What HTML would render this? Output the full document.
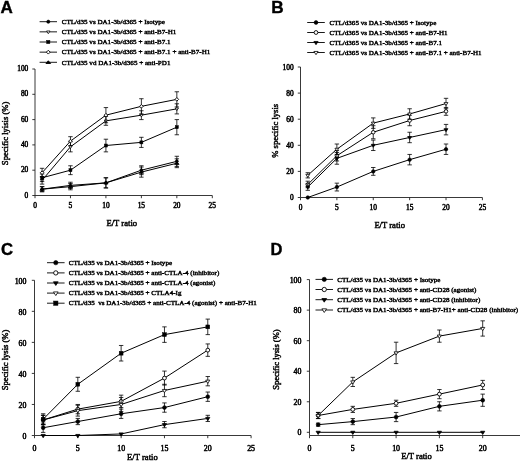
<!DOCTYPE html>
<html><head><meta charset="utf-8"><title>Figure</title>
<style>html,body{margin:0;padding:0;background:#fff}svg{display:block;filter:blur(0.4px)}text{fill:#000;stroke:#000;stroke-width:0.4px}.t{stroke-width:0.46px}.l{stroke-width:0.44px}.k{stroke-width:0.48px}</style>
</head><body>
<svg width="520" height="462" viewBox="0 0 520 462">
<rect width="520" height="462" fill="#fff"/>
<path d="M35.0 69V195.5H212.3" fill="none" stroke="#222" stroke-width="0.9"/>
<path d="M32.30 195.50H35.0" stroke="#222" stroke-width="0.9"/>
<text x="28.30" y="197.51" font-size="7.4" text-anchor="end" class="k" font-family="Liberation Serif, serif">0</text>
<path d="M32.30 170.20H35.0" stroke="#222" stroke-width="0.9"/>
<text x="28.30" y="172.21" font-size="7.4" text-anchor="end" class="k" font-family="Liberation Serif, serif">20</text>
<path d="M32.30 144.90H35.0" stroke="#222" stroke-width="0.9"/>
<text x="28.30" y="146.91" font-size="7.4" text-anchor="end" class="k" font-family="Liberation Serif, serif">40</text>
<path d="M32.30 119.60H35.0" stroke="#222" stroke-width="0.9"/>
<text x="28.30" y="121.61" font-size="7.4" text-anchor="end" class="k" font-family="Liberation Serif, serif">60</text>
<path d="M32.30 94.30H35.0" stroke="#222" stroke-width="0.9"/>
<text x="28.30" y="96.31" font-size="7.4" text-anchor="end" class="k" font-family="Liberation Serif, serif">80</text>
<path d="M32.30 69.00H35.0" stroke="#222" stroke-width="0.9"/>
<text x="28.30" y="71.01" font-size="7.4" text-anchor="end" class="k" font-family="Liberation Serif, serif">100</text>
<path d="M35.00 195.5V198.20" stroke="#222" stroke-width="0.9"/>
<text x="35.00" y="208.00" font-size="7.4" text-anchor="middle" class="k" font-family="Liberation Serif, serif">0</text>
<path d="M70.46 195.5V198.20" stroke="#222" stroke-width="0.9"/>
<text x="70.46" y="208.00" font-size="7.4" text-anchor="middle" class="k" font-family="Liberation Serif, serif">5</text>
<path d="M105.92 195.5V198.20" stroke="#222" stroke-width="0.9"/>
<text x="105.92" y="208.00" font-size="7.4" text-anchor="middle" class="k" font-family="Liberation Serif, serif">10</text>
<path d="M141.38 195.5V198.20" stroke="#222" stroke-width="0.9"/>
<text x="141.38" y="208.00" font-size="7.4" text-anchor="middle" class="k" font-family="Liberation Serif, serif">15</text>
<path d="M176.84 195.5V198.20" stroke="#222" stroke-width="0.9"/>
<text x="176.84" y="208.00" font-size="7.4" text-anchor="middle" class="k" font-family="Liberation Serif, serif">20</text>
<path d="M212.30 195.5V198.20" stroke="#222" stroke-width="0.9"/>
<text x="212.30" y="208.00" font-size="7.4" text-anchor="middle" class="k" font-family="Liberation Serif, serif">25</text>
<polyline points="42.09,189.18 70.46,185.38 105.92,182.85 141.38,170.20 176.84,161.34" fill="none" stroke="#000" stroke-width="1.0"/>
<polyline points="42.09,180.32 70.46,146.80 105.92,120.87 141.38,115.17 176.84,108.85" fill="none" stroke="#000" stroke-width="1.0"/>
<polyline points="42.09,177.79 70.46,170.20 105.92,145.53 141.38,142.37 176.84,127.19" fill="none" stroke="#000" stroke-width="1.0"/>
<polyline points="42.09,172.73 70.46,141.11 105.92,115.17 141.38,106.32 176.84,99.36" fill="none" stroke="#000" stroke-width="1.0"/>
<polyline points="42.09,189.18 70.46,186.65 105.92,182.85 141.38,172.10 176.84,163.24" fill="none" stroke="#000" stroke-width="1.0"/>
<path d="M42.09 186.65V191.71M39.89 186.65h4.4M39.89 191.71h4.4" stroke="#000" stroke-width="0.8" fill="none"/>
<path d="M70.46 182.22V188.54M68.26 182.22h4.4M68.26 188.54h4.4" stroke="#000" stroke-width="0.8" fill="none"/>
<path d="M105.92 177.79V187.91M103.72 177.79h4.4M103.72 187.91h4.4" stroke="#000" stroke-width="0.8" fill="none"/>
<path d="M141.38 165.77V174.63M139.18 165.77h4.4M139.18 174.63h4.4" stroke="#000" stroke-width="0.8" fill="none"/>
<path d="M176.84 156.28V166.41M174.64 156.28h4.4M174.64 166.41h4.4" stroke="#000" stroke-width="0.8" fill="none"/>
<circle cx="42.09" cy="189.18" r="1.50" fill="#000" stroke="#000" stroke-width="0.6"/>
<circle cx="70.46" cy="185.38" r="1.50" fill="#000" stroke="#000" stroke-width="0.6"/>
<circle cx="105.92" cy="182.85" r="1.50" fill="#000" stroke="#000" stroke-width="0.6"/>
<circle cx="141.38" cy="170.20" r="1.50" fill="#000" stroke="#000" stroke-width="0.6"/>
<circle cx="176.84" cy="161.34" r="1.50" fill="#000" stroke="#000" stroke-width="0.6"/>
<path d="M42.09 176.53V184.12M39.89 176.53h4.4M39.89 184.12h4.4" stroke="#000" stroke-width="0.8" fill="none"/>
<path d="M70.46 141.74V151.86M68.26 141.74h4.4M68.26 151.86h4.4" stroke="#000" stroke-width="0.8" fill="none"/>
<path d="M105.92 116.44V125.29M103.72 116.44h4.4M103.72 125.29h4.4" stroke="#000" stroke-width="0.8" fill="none"/>
<path d="M141.38 110.75V119.60M139.18 110.75h4.4M139.18 119.60h4.4" stroke="#000" stroke-width="0.8" fill="none"/>
<path d="M176.84 103.79V113.91M174.64 103.79h4.4M174.64 113.91h4.4" stroke="#000" stroke-width="0.8" fill="none"/>
<path d="M40.44 179.50L43.74 179.50L42.09 182.04Z" fill="#fff" stroke="#000" stroke-width="0.8"/>
<path d="M68.81 145.97L72.11 145.97L70.46 148.52Z" fill="#fff" stroke="#000" stroke-width="0.8"/>
<path d="M104.27 120.04L107.57 120.04L105.92 122.59Z" fill="#fff" stroke="#000" stroke-width="0.8"/>
<path d="M139.73 114.35L143.03 114.35L141.38 116.90Z" fill="#fff" stroke="#000" stroke-width="0.8"/>
<path d="M175.19 108.02L178.49 108.02L176.84 110.57Z" fill="#fff" stroke="#000" stroke-width="0.8"/>
<path d="M42.09 174.00V181.59M39.89 174.00h4.4M39.89 181.59h4.4" stroke="#000" stroke-width="0.8" fill="none"/>
<path d="M70.46 165.77V174.63M68.26 165.77h4.4M68.26 174.63h4.4" stroke="#000" stroke-width="0.8" fill="none"/>
<path d="M105.92 139.21V151.86M103.72 139.21h4.4M103.72 151.86h4.4" stroke="#000" stroke-width="0.8" fill="none"/>
<path d="M141.38 137.31V147.43M139.18 137.31h4.4M139.18 147.43h4.4" stroke="#000" stroke-width="0.8" fill="none"/>
<path d="M176.84 119.60V134.78M174.64 119.60h4.4M174.64 134.78h4.4" stroke="#000" stroke-width="0.8" fill="none"/>
<rect x="40.59" y="176.29" width="3.00" height="3.00" fill="#000" stroke="#000" stroke-width="0.5"/>
<rect x="68.96" y="168.70" width="3.00" height="3.00" fill="#000" stroke="#000" stroke-width="0.5"/>
<rect x="104.42" y="144.03" width="3.00" height="3.00" fill="#000" stroke="#000" stroke-width="0.5"/>
<rect x="139.88" y="140.87" width="3.00" height="3.00" fill="#000" stroke="#000" stroke-width="0.5"/>
<rect x="175.34" y="125.69" width="3.00" height="3.00" fill="#000" stroke="#000" stroke-width="0.5"/>
<path d="M42.09 168.30V177.16M39.89 168.30h4.4M39.89 177.16h4.4" stroke="#000" stroke-width="0.8" fill="none"/>
<path d="M70.46 136.68V145.53M68.26 136.68h4.4M68.26 145.53h4.4" stroke="#000" stroke-width="0.8" fill="none"/>
<path d="M105.92 107.58V122.76M103.72 107.58h4.4M103.72 122.76h4.4" stroke="#000" stroke-width="0.8" fill="none"/>
<path d="M141.38 98.73V113.91M139.18 98.73h4.4M139.18 113.91h4.4" stroke="#000" stroke-width="0.8" fill="none"/>
<path d="M176.84 91.77V106.95M174.64 91.77h4.4M174.64 106.95h4.4" stroke="#000" stroke-width="0.8" fill="none"/>
<path d="M40.29 172.73L42.09 170.93L43.89 172.73L42.09 174.53Z" fill="#fff" stroke="#000" stroke-width="0.9"/>
<path d="M68.66 141.11L70.46 139.31L72.26 141.11L70.46 142.91Z" fill="#fff" stroke="#000" stroke-width="0.9"/>
<path d="M104.12 115.17L105.92 113.37L107.72 115.17L105.92 116.97Z" fill="#fff" stroke="#000" stroke-width="0.9"/>
<path d="M139.58 106.32L141.38 104.52L143.18 106.32L141.38 108.12Z" fill="#fff" stroke="#000" stroke-width="0.9"/>
<path d="M175.04 99.36L176.84 97.56L178.64 99.36L176.84 101.16Z" fill="#fff" stroke="#000" stroke-width="0.9"/>
<path d="M42.09 186.65V191.71M39.89 186.65h4.4M39.89 191.71h4.4" stroke="#000" stroke-width="0.8" fill="none"/>
<path d="M70.46 183.48V189.81M68.26 183.48h4.4M68.26 189.81h4.4" stroke="#000" stroke-width="0.8" fill="none"/>
<path d="M105.92 177.79V187.91M103.72 177.79h4.4M103.72 187.91h4.4" stroke="#000" stroke-width="0.8" fill="none"/>
<path d="M141.38 167.04V177.16M139.18 167.04h4.4M139.18 177.16h4.4" stroke="#000" stroke-width="0.8" fill="none"/>
<path d="M176.84 158.81V167.67M174.64 158.81h4.4M174.64 167.67h4.4" stroke="#000" stroke-width="0.8" fill="none"/>
<path d="M39.92 190.30L44.27 190.30L42.09 187.75Z" fill="#000" stroke="#000" stroke-width="0.9"/>
<path d="M68.29 187.77L72.64 187.77L70.46 185.22Z" fill="#000" stroke="#000" stroke-width="0.9"/>
<path d="M103.75 183.97L108.09 183.97L105.92 181.42Z" fill="#000" stroke="#000" stroke-width="0.9"/>
<path d="M139.20 173.22L143.56 173.22L141.38 170.67Z" fill="#000" stroke="#000" stroke-width="0.9"/>
<path d="M174.66 164.37L179.02 164.37L176.84 161.82Z" fill="#000" stroke="#000" stroke-width="0.9"/>
<path d="M39.6 21.7H57" stroke="#000" stroke-width="0.9"/>
<circle cx="48.30" cy="21.70" r="1.60" fill="#000" stroke="#000" stroke-width="0.6"/>
<text x="61.7" y="23.96" font-size="7.07" font-family="Liberation Serif, serif" class="l" xml:space="preserve">CTL/d35 vs DA1-3b/d365 + Isotype</text>
<path d="M39.6 31.85H57" stroke="#000" stroke-width="0.9"/>
<path d="M46.54 30.97L50.06 30.97L48.30 33.69Z" fill="#fff" stroke="#000" stroke-width="0.8"/>
<text x="61.7" y="34.11" font-size="7.07" font-family="Liberation Serif, serif" class="l" xml:space="preserve">CTL/d35 vs DA1-3b/d365 + anti-B7-H1</text>
<path d="M39.6 42.0H57" stroke="#000" stroke-width="0.9"/>
<rect x="46.70" y="40.40" width="3.20" height="3.20" fill="#000" stroke="#000" stroke-width="0.5"/>
<text x="61.7" y="44.26" font-size="7.07" font-family="Liberation Serif, serif" class="l" xml:space="preserve">CTL/d35 vs DA1-3b/d365 + anti-B7.1</text>
<path d="M39.6 52.15H57" stroke="#000" stroke-width="0.9"/>
<path d="M46.38 52.15L48.30 50.23L50.22 52.15L48.30 54.07Z" fill="#fff" stroke="#000" stroke-width="0.9"/>
<text x="61.7" y="54.41" font-size="7.07" font-family="Liberation Serif, serif" class="l" xml:space="preserve">CTL/d35 vs DA1-3b/d365 + anti-B7.1 + anti-B7-H1</text>
<path d="M39.6 62.3H57" stroke="#000" stroke-width="0.9"/>
<path d="M45.98 63.50L50.62 63.50L48.30 60.78Z" fill="#000" stroke="#000" stroke-width="0.9"/>
<text x="61.7" y="64.56" font-size="7.07" font-family="Liberation Serif, serif" class="l" xml:space="preserve">CTL/d35 vd DA1-3b/d365 + anti-PD1</text>
<text transform="translate(8.2,133.4) rotate(-90)" font-size="8.6" text-anchor="middle" class="t" font-family="Liberation Serif, serif">Specific lyisis (%)</text>
<text x="121.8" y="226.2" font-size="8.6" text-anchor="middle" class="t" font-family="Liberation Serif, serif">E/T ratio</text>
<text x="0.6" y="13.1" font-size="17" font-weight="bold" font-family="Liberation Sans, sans-serif">A</text>
<path d="M300.5 67.0V197.5H482.4" fill="none" stroke="#222" stroke-width="0.9"/>
<path d="M297.80 197.50H300.5" stroke="#222" stroke-width="0.9"/>
<text x="293.70" y="200.41" font-size="7.4" text-anchor="end" class="k" font-family="Liberation Serif, serif">0</text>
<path d="M297.80 171.40H300.5" stroke="#222" stroke-width="0.9"/>
<text x="293.70" y="174.31" font-size="7.4" text-anchor="end" class="k" font-family="Liberation Serif, serif">20</text>
<path d="M297.80 145.30H300.5" stroke="#222" stroke-width="0.9"/>
<text x="293.70" y="148.21" font-size="7.4" text-anchor="end" class="k" font-family="Liberation Serif, serif">40</text>
<path d="M297.80 119.20H300.5" stroke="#222" stroke-width="0.9"/>
<text x="293.70" y="122.11" font-size="7.4" text-anchor="end" class="k" font-family="Liberation Serif, serif">60</text>
<path d="M297.80 93.10H300.5" stroke="#222" stroke-width="0.9"/>
<text x="293.70" y="96.01" font-size="7.4" text-anchor="end" class="k" font-family="Liberation Serif, serif">80</text>
<path d="M297.80 67.00H300.5" stroke="#222" stroke-width="0.9"/>
<text x="293.70" y="69.91" font-size="7.4" text-anchor="end" class="k" font-family="Liberation Serif, serif">100</text>
<path d="M300.50 197.5V200.20" stroke="#222" stroke-width="0.9"/>
<text x="300.50" y="210.40" font-size="7.4" text-anchor="middle" class="k" font-family="Liberation Serif, serif">0</text>
<path d="M336.88 197.5V200.20" stroke="#222" stroke-width="0.9"/>
<text x="336.88" y="210.40" font-size="7.4" text-anchor="middle" class="k" font-family="Liberation Serif, serif">5</text>
<path d="M373.26 197.5V200.20" stroke="#222" stroke-width="0.9"/>
<text x="373.26" y="210.40" font-size="7.4" text-anchor="middle" class="k" font-family="Liberation Serif, serif">10</text>
<path d="M409.64 197.5V200.20" stroke="#222" stroke-width="0.9"/>
<text x="409.64" y="210.40" font-size="7.4" text-anchor="middle" class="k" font-family="Liberation Serif, serif">15</text>
<path d="M446.02 197.5V200.20" stroke="#222" stroke-width="0.9"/>
<text x="446.02" y="210.40" font-size="7.4" text-anchor="middle" class="k" font-family="Liberation Serif, serif">20</text>
<path d="M482.40 197.5V200.20" stroke="#222" stroke-width="0.9"/>
<text x="482.40" y="210.40" font-size="7.4" text-anchor="middle" class="k" font-family="Liberation Serif, serif">25</text>
<polyline points="307.78,197.50 336.88,187.06 373.26,171.40 409.64,159.66 446.02,149.22" fill="none" stroke="#000" stroke-width="1.0"/>
<polyline points="307.78,184.45 336.88,155.74 373.26,132.25 409.64,120.51 446.02,111.37" fill="none" stroke="#000" stroke-width="1.0"/>
<polyline points="307.78,187.06 336.88,158.35 373.26,145.30 409.64,137.47 446.02,129.64" fill="none" stroke="#000" stroke-width="1.0"/>
<polyline points="307.78,175.31 336.88,149.22 373.26,123.12 409.64,113.98 446.02,103.54" fill="none" stroke="#000" stroke-width="1.0"/>
<path d="M336.88 183.15V190.97M334.68 183.15h4.4M334.68 190.97h4.4" stroke="#000" stroke-width="0.8" fill="none"/>
<path d="M373.26 167.49V175.31M371.06 167.49h4.4M371.06 175.31h4.4" stroke="#000" stroke-width="0.8" fill="none"/>
<path d="M409.64 154.44V164.88M407.44 154.44h4.4M407.44 164.88h4.4" stroke="#000" stroke-width="0.8" fill="none"/>
<path d="M446.02 144.00V154.44M443.82 144.00h4.4M443.82 154.44h4.4" stroke="#000" stroke-width="0.8" fill="none"/>
<circle cx="307.78" cy="197.50" r="1.75" fill="#000" stroke="#000" stroke-width="0.6"/>
<circle cx="336.88" cy="187.06" r="1.75" fill="#000" stroke="#000" stroke-width="0.6"/>
<circle cx="373.26" cy="171.40" r="1.75" fill="#000" stroke="#000" stroke-width="0.6"/>
<circle cx="409.64" cy="159.66" r="1.75" fill="#000" stroke="#000" stroke-width="0.6"/>
<circle cx="446.02" cy="149.22" r="1.75" fill="#000" stroke="#000" stroke-width="0.6"/>
<path d="M307.78 181.19V187.71M305.58 181.19h4.4M305.58 187.71h4.4" stroke="#000" stroke-width="0.8" fill="none"/>
<path d="M336.88 150.52V160.96M334.68 150.52h4.4M334.68 160.96h4.4" stroke="#000" stroke-width="0.8" fill="none"/>
<path d="M373.26 125.73V138.78M371.06 125.73h4.4M371.06 138.78h4.4" stroke="#000" stroke-width="0.8" fill="none"/>
<path d="M409.64 115.29V125.73M407.44 115.29h4.4M407.44 125.73h4.4" stroke="#000" stroke-width="0.8" fill="none"/>
<path d="M446.02 107.45V115.29M443.82 107.45h4.4M443.82 115.29h4.4" stroke="#000" stroke-width="0.8" fill="none"/>
<circle cx="307.78" cy="184.45" r="1.75" fill="#fff" stroke="#000" stroke-width="0.9"/>
<circle cx="336.88" cy="155.74" r="1.75" fill="#fff" stroke="#000" stroke-width="0.9"/>
<circle cx="373.26" cy="132.25" r="1.75" fill="#fff" stroke="#000" stroke-width="0.9"/>
<circle cx="409.64" cy="120.51" r="1.75" fill="#fff" stroke="#000" stroke-width="0.9"/>
<circle cx="446.02" cy="111.37" r="1.75" fill="#fff" stroke="#000" stroke-width="0.9"/>
<path d="M307.78 183.80V190.32M305.58 183.80h4.4M305.58 190.32h4.4" stroke="#000" stroke-width="0.8" fill="none"/>
<path d="M336.88 152.48V164.22M334.68 152.48h4.4M334.68 164.22h4.4" stroke="#000" stroke-width="0.8" fill="none"/>
<path d="M373.26 140.08V150.52M371.06 140.08h4.4M371.06 150.52h4.4" stroke="#000" stroke-width="0.8" fill="none"/>
<path d="M409.64 132.25V142.69M407.44 132.25h4.4M407.44 142.69h4.4" stroke="#000" stroke-width="0.8" fill="none"/>
<path d="M446.02 124.42V134.86M443.82 124.42h4.4M443.82 134.86h4.4" stroke="#000" stroke-width="0.8" fill="none"/>
<path d="M305.85 186.10L309.70 186.10L307.78 189.07Z" fill="#000" stroke="#000" stroke-width="0.8"/>
<path d="M334.95 157.39L338.81 157.39L336.88 160.36Z" fill="#000" stroke="#000" stroke-width="0.8"/>
<path d="M371.33 144.34L375.19 144.34L373.26 147.31Z" fill="#000" stroke="#000" stroke-width="0.8"/>
<path d="M407.71 136.51L411.56 136.51L409.64 139.48Z" fill="#000" stroke="#000" stroke-width="0.8"/>
<path d="M444.09 128.68L447.94 128.68L446.02 131.65Z" fill="#000" stroke="#000" stroke-width="0.8"/>
<path d="M307.78 172.71V177.93M305.58 172.71h4.4M305.58 177.93h4.4" stroke="#000" stroke-width="0.8" fill="none"/>
<path d="M336.88 144.00V154.44M334.68 144.00h4.4M334.68 154.44h4.4" stroke="#000" stroke-width="0.8" fill="none"/>
<path d="M373.26 117.90V128.34M371.06 117.90h4.4M371.06 128.34h4.4" stroke="#000" stroke-width="0.8" fill="none"/>
<path d="M409.64 108.76V119.20M407.44 108.76h4.4M407.44 119.20h4.4" stroke="#000" stroke-width="0.8" fill="none"/>
<path d="M446.02 98.32V108.76M443.82 98.32h4.4M443.82 108.76h4.4" stroke="#000" stroke-width="0.8" fill="none"/>
<path d="M305.85 174.35L309.70 174.35L307.78 177.33Z" fill="#fff" stroke="#000" stroke-width="0.8"/>
<path d="M334.95 148.25L338.81 148.25L336.88 151.23Z" fill="#fff" stroke="#000" stroke-width="0.8"/>
<path d="M371.33 122.15L375.19 122.15L373.26 125.13Z" fill="#fff" stroke="#000" stroke-width="0.8"/>
<path d="M407.71 113.02L411.56 113.02L409.64 115.99Z" fill="#fff" stroke="#000" stroke-width="0.8"/>
<path d="M444.09 102.58L447.94 102.58L446.02 105.55Z" fill="#fff" stroke="#000" stroke-width="0.8"/>
<path d="M307.2 22.5H324.8" stroke="#000" stroke-width="0.9"/>
<circle cx="316.00" cy="22.50" r="1.90" fill="#000" stroke="#000" stroke-width="0.6"/>
<text x="329.5" y="24.76" font-size="7.07" font-family="Liberation Serif, serif" class="l" xml:space="preserve">CTL/d365 vs DA1-3b/d365 + Isotype</text>
<path d="M307.2 32.5H324.8" stroke="#000" stroke-width="0.9"/>
<circle cx="316.00" cy="32.50" r="1.90" fill="#fff" stroke="#000" stroke-width="0.9"/>
<text x="329.5" y="34.76" font-size="7.07" font-family="Liberation Serif, serif" class="l" xml:space="preserve">CTL/d365 vs DA1-3b/d365 + anti-B7-H1</text>
<path d="M307.2 42.5H324.8" stroke="#000" stroke-width="0.9"/>
<path d="M313.91 41.45L318.09 41.45L316.00 44.69Z" fill="#000" stroke="#000" stroke-width="0.8"/>
<text x="329.5" y="44.76" font-size="7.07" font-family="Liberation Serif, serif" class="l" xml:space="preserve">CTL/d365 vs DA1-3b/d365 + anti-B7.1</text>
<path d="M307.2 52.5H324.8" stroke="#000" stroke-width="0.9"/>
<path d="M313.91 51.45L318.09 51.45L316.00 54.69Z" fill="#fff" stroke="#000" stroke-width="0.8"/>
<text x="329.5" y="54.76" font-size="7.07" font-family="Liberation Serif, serif" class="l" xml:space="preserve">CTL/d365 vs DA1-3b/d365 + anti-B7.1 + anti-B7-H1</text>
<text transform="translate(278.4,130.8) rotate(-90)" font-size="8.6" text-anchor="middle" class="t" font-family="Liberation Serif, serif">% specific lysis</text>
<text x="389.7" y="227.8" font-size="8.6" text-anchor="middle" class="t" font-family="Liberation Serif, serif">E/T ratio</text>
<text x="271.3" y="13.1" font-size="17.2" font-weight="bold" font-family="Liberation Sans, sans-serif">B</text>
<path d="M34.5 280.3V435.5H251.1" fill="none" stroke="#222" stroke-width="0.9"/>
<path d="M31.80 435.50H34.5" stroke="#222" stroke-width="0.9"/>
<text x="26.50" y="439.30" font-size="7.9" text-anchor="end" class="k" font-family="Liberation Serif, serif">0</text>
<path d="M31.80 404.46H34.5" stroke="#222" stroke-width="0.9"/>
<text x="26.50" y="408.26" font-size="7.9" text-anchor="end" class="k" font-family="Liberation Serif, serif">20</text>
<path d="M31.80 373.42H34.5" stroke="#222" stroke-width="0.9"/>
<text x="26.50" y="377.22" font-size="7.9" text-anchor="end" class="k" font-family="Liberation Serif, serif">40</text>
<path d="M31.80 342.38H34.5" stroke="#222" stroke-width="0.9"/>
<text x="26.50" y="346.18" font-size="7.9" text-anchor="end" class="k" font-family="Liberation Serif, serif">60</text>
<path d="M31.80 311.34H34.5" stroke="#222" stroke-width="0.9"/>
<text x="26.50" y="315.14" font-size="7.9" text-anchor="end" class="k" font-family="Liberation Serif, serif">80</text>
<path d="M31.80 280.30H34.5" stroke="#222" stroke-width="0.9"/>
<text x="26.50" y="284.10" font-size="7.9" text-anchor="end" class="k" font-family="Liberation Serif, serif">100</text>
<path d="M34.50 435.5V438.20" stroke="#222" stroke-width="0.9"/>
<text x="34.50" y="451.10" font-size="7.9" text-anchor="middle" class="k" font-family="Liberation Serif, serif">0</text>
<path d="M77.82 435.5V438.20" stroke="#222" stroke-width="0.9"/>
<text x="77.82" y="451.10" font-size="7.9" text-anchor="middle" class="k" font-family="Liberation Serif, serif">5</text>
<path d="M121.14 435.5V438.20" stroke="#222" stroke-width="0.9"/>
<text x="121.14" y="451.10" font-size="7.9" text-anchor="middle" class="k" font-family="Liberation Serif, serif">10</text>
<path d="M164.46 435.5V438.20" stroke="#222" stroke-width="0.9"/>
<text x="164.46" y="451.10" font-size="7.9" text-anchor="middle" class="k" font-family="Liberation Serif, serif">15</text>
<path d="M207.78 435.5V438.20" stroke="#222" stroke-width="0.9"/>
<text x="207.78" y="451.10" font-size="7.9" text-anchor="middle" class="k" font-family="Liberation Serif, serif">20</text>
<path d="M251.10 435.5V438.20" stroke="#222" stroke-width="0.9"/>
<text x="251.10" y="451.10" font-size="7.9" text-anchor="middle" class="k" font-family="Liberation Serif, serif">25</text>
<polyline points="43.16,427.74 77.82,421.53 121.14,413.77 164.46,407.56 207.78,396.70" fill="none" stroke="#000" stroke-width="1.0"/>
<polyline points="43.16,419.98 77.82,409.12 121.14,401.36 164.46,378.08 207.78,350.14" fill="none" stroke="#000" stroke-width="1.0"/>
<polyline points="43.16,435.50 77.82,435.50 121.14,433.95 164.46,424.64 207.78,418.43" fill="none" stroke="#000" stroke-width="1.0"/>
<polyline points="43.16,419.98 77.82,410.67 121.14,404.46 164.46,390.49 207.78,381.18" fill="none" stroke="#000" stroke-width="1.0"/>
<polyline points="43.16,419.20 77.82,384.28 121.14,353.24 164.46,334.62 207.78,326.86" fill="none" stroke="#000" stroke-width="1.0"/>
<path d="M43.16 423.08V432.40M40.96 423.08h4.4M40.96 432.40h4.4" stroke="#000" stroke-width="0.8" fill="none"/>
<path d="M77.82 418.43V424.64M75.62 418.43h4.4M75.62 424.64h4.4" stroke="#000" stroke-width="0.8" fill="none"/>
<path d="M121.14 409.12V418.43M118.94 409.12h4.4M118.94 418.43h4.4" stroke="#000" stroke-width="0.8" fill="none"/>
<path d="M164.46 402.91V412.22M162.26 402.91h4.4M162.26 412.22h4.4" stroke="#000" stroke-width="0.8" fill="none"/>
<path d="M207.78 392.04V401.36M205.58 392.04h4.4M205.58 401.36h4.4" stroke="#000" stroke-width="0.8" fill="none"/>
<circle cx="43.16" cy="427.74" r="1.90" fill="#000" stroke="#000" stroke-width="0.6"/>
<circle cx="77.82" cy="421.53" r="1.90" fill="#000" stroke="#000" stroke-width="0.6"/>
<circle cx="121.14" cy="413.77" r="1.90" fill="#000" stroke="#000" stroke-width="0.6"/>
<circle cx="164.46" cy="407.56" r="1.90" fill="#000" stroke="#000" stroke-width="0.6"/>
<circle cx="207.78" cy="396.70" r="1.90" fill="#000" stroke="#000" stroke-width="0.6"/>
<path d="M43.16 415.32V424.64M40.96 415.32h4.4M40.96 424.64h4.4" stroke="#000" stroke-width="0.8" fill="none"/>
<path d="M77.82 404.46V413.77M75.62 404.46h4.4M75.62 413.77h4.4" stroke="#000" stroke-width="0.8" fill="none"/>
<path d="M121.14 395.15V407.56M118.94 395.15h4.4M118.94 407.56h4.4" stroke="#000" stroke-width="0.8" fill="none"/>
<path d="M164.46 371.09V385.06M162.26 371.09h4.4M162.26 385.06h4.4" stroke="#000" stroke-width="0.8" fill="none"/>
<path d="M207.78 343.93V356.35M205.58 343.93h4.4M205.58 356.35h4.4" stroke="#000" stroke-width="0.8" fill="none"/>
<circle cx="43.16" cy="419.98" r="1.90" fill="#fff" stroke="#000" stroke-width="0.9"/>
<circle cx="77.82" cy="409.12" r="1.90" fill="#fff" stroke="#000" stroke-width="0.9"/>
<circle cx="121.14" cy="401.36" r="1.90" fill="#fff" stroke="#000" stroke-width="0.9"/>
<circle cx="164.46" cy="378.08" r="1.90" fill="#fff" stroke="#000" stroke-width="0.9"/>
<circle cx="207.78" cy="350.14" r="1.90" fill="#fff" stroke="#000" stroke-width="0.9"/>
<path d="M164.46 421.53V427.74M162.26 421.53h4.4M162.26 427.74h4.4" stroke="#000" stroke-width="0.8" fill="none"/>
<path d="M207.78 415.32V421.53M205.58 415.32h4.4M205.58 421.53h4.4" stroke="#000" stroke-width="0.8" fill="none"/>
<path d="M41.07 434.45L45.25 434.45L43.16 437.69Z" fill="#000" stroke="#000" stroke-width="0.8"/>
<path d="M75.73 434.45L79.91 434.45L77.82 437.69Z" fill="#000" stroke="#000" stroke-width="0.8"/>
<path d="M119.05 432.90L123.23 432.90L121.14 436.13Z" fill="#000" stroke="#000" stroke-width="0.8"/>
<path d="M162.37 423.59L166.55 423.59L164.46 426.82Z" fill="#000" stroke="#000" stroke-width="0.8"/>
<path d="M205.69 417.38L209.87 417.38L207.78 420.61Z" fill="#000" stroke="#000" stroke-width="0.8"/>
<path d="M43.16 415.32V424.64M40.96 415.32h4.4M40.96 424.64h4.4" stroke="#000" stroke-width="0.8" fill="none"/>
<path d="M77.82 405.24V416.10M75.62 405.24h4.4M75.62 416.10h4.4" stroke="#000" stroke-width="0.8" fill="none"/>
<path d="M121.14 397.48V411.44M118.94 397.48h4.4M118.94 411.44h4.4" stroke="#000" stroke-width="0.8" fill="none"/>
<path d="M164.46 384.28V396.70M162.26 384.28h4.4M162.26 396.70h4.4" stroke="#000" stroke-width="0.8" fill="none"/>
<path d="M207.78 376.52V385.84M205.58 376.52h4.4M205.58 385.84h4.4" stroke="#000" stroke-width="0.8" fill="none"/>
<path d="M41.07 418.94L45.25 418.94L43.16 422.17Z" fill="#fff" stroke="#000" stroke-width="0.8"/>
<path d="M75.73 409.62L79.91 409.62L77.82 412.85Z" fill="#fff" stroke="#000" stroke-width="0.8"/>
<path d="M119.05 403.41L123.23 403.41L121.14 406.64Z" fill="#fff" stroke="#000" stroke-width="0.8"/>
<path d="M162.37 389.45L166.55 389.45L164.46 392.68Z" fill="#fff" stroke="#000" stroke-width="0.8"/>
<path d="M205.69 380.13L209.87 380.13L207.78 383.37Z" fill="#fff" stroke="#000" stroke-width="0.8"/>
<path d="M43.16 413.77V424.64M40.96 413.77h4.4M40.96 424.64h4.4" stroke="#000" stroke-width="0.8" fill="none"/>
<path d="M77.82 377.30V391.27M75.62 377.30h4.4M75.62 391.27h4.4" stroke="#000" stroke-width="0.8" fill="none"/>
<path d="M121.14 345.48V361.00M118.94 345.48h4.4M118.94 361.00h4.4" stroke="#000" stroke-width="0.8" fill="none"/>
<path d="M164.46 326.86V342.38M162.26 326.86h4.4M162.26 342.38h4.4" stroke="#000" stroke-width="0.8" fill="none"/>
<path d="M207.78 319.10V334.62M205.58 319.10h4.4M205.58 334.62h4.4" stroke="#000" stroke-width="0.8" fill="none"/>
<rect x="41.26" y="417.30" width="3.80" height="3.80" fill="#000" stroke="#000" stroke-width="0.5"/>
<rect x="75.92" y="382.38" width="3.80" height="3.80" fill="#000" stroke="#000" stroke-width="0.5"/>
<rect x="119.24" y="351.34" width="3.80" height="3.80" fill="#000" stroke="#000" stroke-width="0.5"/>
<rect x="162.56" y="332.72" width="3.80" height="3.80" fill="#000" stroke="#000" stroke-width="0.5"/>
<rect x="205.88" y="324.96" width="3.80" height="3.80" fill="#000" stroke="#000" stroke-width="0.5"/>
<path d="M47 262.7H64.6" stroke="#000" stroke-width="0.9"/>
<circle cx="55.80" cy="262.70" r="2.15" fill="#000" stroke="#000" stroke-width="0.6"/>
<text x="68.8" y="264.96" font-size="7.07" font-family="Liberation Serif, serif" class="l" xml:space="preserve">CTL/d35 vs DA1-3b/d365 + Isotype</text>
<path d="M47 272.9H64.6" stroke="#000" stroke-width="0.9"/>
<circle cx="55.80" cy="272.90" r="2.15" fill="#fff" stroke="#000" stroke-width="0.9"/>
<text x="68.8" y="275.16" font-size="7.07" font-family="Liberation Serif, serif" class="l" xml:space="preserve">CTL/d35 vs DA1-3b/d365 + anti-CTLA-4 (inhibitor)</text>
<path d="M47 283.0H64.6" stroke="#000" stroke-width="0.9"/>
<path d="M53.43 281.82L58.16 281.82L55.80 285.47Z" fill="#000" stroke="#000" stroke-width="0.8"/>
<text x="68.8" y="285.26" font-size="7.07" font-family="Liberation Serif, serif" class="l" xml:space="preserve">CTL/d35 vs DA1-3b/d365 + anti-CTLA-4 (agonist)</text>
<path d="M47 293.1H64.6" stroke="#000" stroke-width="0.9"/>
<path d="M53.43 291.92L58.16 291.92L55.80 295.57Z" fill="#fff" stroke="#000" stroke-width="0.8"/>
<text x="68.8" y="295.36" font-size="7.07" font-family="Liberation Serif, serif" class="l" xml:space="preserve">CTL/d35 vs DA1-3b/d365 + CTLA4-Ig</text>
<path d="M47 303.2H64.6" stroke="#000" stroke-width="0.9"/>
<rect x="53.65" y="301.05" width="4.30" height="4.30" fill="#000" stroke="#000" stroke-width="0.5"/>
<text x="68.8" y="305.46" font-size="7.07" font-family="Liberation Serif, serif" class="l" xml:space="preserve">CTL/d35  vs DA1-3b/d365 + anti-CTLA-4 (agonist) + anti-B7-H1</text>
<text transform="translate(8,360) rotate(-90)" font-size="8.5" text-anchor="middle" class="t" font-family="Liberation Serif, serif">Specific lysis (%)</text>
<text x="142.4" y="459.6" font-size="8.6" text-anchor="middle" class="t" font-family="Liberation Serif, serif">E/T ratio</text>
<text x="1" y="254.9" font-size="16.7" font-weight="bold" font-family="Liberation Sans, sans-serif">C</text>
<path d="M309.5 279.6V435.5H520" fill="none" stroke="#222" stroke-width="0.9"/>
<path d="M306.80 432.30H309.5" stroke="#222" stroke-width="0.9"/>
<text x="301.50" y="435.30" font-size="7.9" text-anchor="end" class="k" font-family="Liberation Serif, serif">0</text>
<path d="M306.80 401.76H309.5" stroke="#222" stroke-width="0.9"/>
<text x="301.50" y="404.76" font-size="7.9" text-anchor="end" class="k" font-family="Liberation Serif, serif">20</text>
<path d="M306.80 371.22H309.5" stroke="#222" stroke-width="0.9"/>
<text x="301.50" y="374.22" font-size="7.9" text-anchor="end" class="k" font-family="Liberation Serif, serif">40</text>
<path d="M306.80 340.68H309.5" stroke="#222" stroke-width="0.9"/>
<text x="301.50" y="343.68" font-size="7.9" text-anchor="end" class="k" font-family="Liberation Serif, serif">60</text>
<path d="M306.80 310.14H309.5" stroke="#222" stroke-width="0.9"/>
<text x="301.50" y="313.14" font-size="7.9" text-anchor="end" class="k" font-family="Liberation Serif, serif">80</text>
<path d="M306.80 279.60H309.5" stroke="#222" stroke-width="0.9"/>
<text x="301.50" y="282.60" font-size="7.9" text-anchor="end" class="k" font-family="Liberation Serif, serif">100</text>
<path d="M309.50 435.5V438.20" stroke="#222" stroke-width="0.9"/>
<text x="309.50" y="450.90" font-size="7.9" text-anchor="middle" class="k" font-family="Liberation Serif, serif">0</text>
<path d="M352.80 435.5V438.20" stroke="#222" stroke-width="0.9"/>
<text x="352.80" y="450.90" font-size="7.9" text-anchor="middle" class="k" font-family="Liberation Serif, serif">5</text>
<path d="M396.10 435.5V438.20" stroke="#222" stroke-width="0.9"/>
<text x="396.10" y="450.90" font-size="7.9" text-anchor="middle" class="k" font-family="Liberation Serif, serif">10</text>
<path d="M439.40 435.5V438.20" stroke="#222" stroke-width="0.9"/>
<text x="439.40" y="450.90" font-size="7.9" text-anchor="middle" class="k" font-family="Liberation Serif, serif">15</text>
<path d="M482.70 435.5V438.20" stroke="#222" stroke-width="0.9"/>
<text x="482.70" y="450.90" font-size="7.9" text-anchor="middle" class="k" font-family="Liberation Serif, serif">20</text>
<polyline points="318.16,424.67 352.80,421.61 396.10,417.03 439.40,406.34 482.70,400.23" fill="none" stroke="#000" stroke-width="1.0"/>
<polyline points="318.16,415.50 352.80,409.40 396.10,403.29 439.40,394.12 482.70,384.96" fill="none" stroke="#000" stroke-width="1.0"/>
<polyline points="318.16,432.30 352.80,432.30 396.10,432.30 439.40,432.30 482.70,432.30" fill="none" stroke="#000" stroke-width="1.0"/>
<polyline points="318.16,415.50 352.80,381.91 396.10,352.90 439.40,336.10 482.70,328.46" fill="none" stroke="#000" stroke-width="1.0"/>
<path d="M318.16 423.14V426.19M315.96 423.14h4.4M315.96 426.19h4.4" stroke="#000" stroke-width="0.8" fill="none"/>
<path d="M352.80 418.56V424.67M350.60 418.56h4.4M350.60 424.67h4.4" stroke="#000" stroke-width="0.8" fill="none"/>
<path d="M396.10 412.45V421.61M393.90 412.45h4.4M393.90 421.61h4.4" stroke="#000" stroke-width="0.8" fill="none"/>
<path d="M439.40 401.76V410.92M437.20 401.76h4.4M437.20 410.92h4.4" stroke="#000" stroke-width="0.8" fill="none"/>
<path d="M482.70 394.12V406.34M480.50 394.12h4.4M480.50 406.34h4.4" stroke="#000" stroke-width="0.8" fill="none"/>
<circle cx="318.16" cy="424.67" r="1.90" fill="#000" stroke="#000" stroke-width="0.6"/>
<circle cx="352.80" cy="421.61" r="1.90" fill="#000" stroke="#000" stroke-width="0.6"/>
<circle cx="396.10" cy="417.03" r="1.90" fill="#000" stroke="#000" stroke-width="0.6"/>
<circle cx="439.40" cy="406.34" r="1.90" fill="#000" stroke="#000" stroke-width="0.6"/>
<circle cx="482.70" cy="400.23" r="1.90" fill="#000" stroke="#000" stroke-width="0.6"/>
<path d="M318.16 412.45V418.56M315.96 412.45h4.4M315.96 418.56h4.4" stroke="#000" stroke-width="0.8" fill="none"/>
<path d="M352.80 406.34V412.45M350.60 406.34h4.4M350.60 412.45h4.4" stroke="#000" stroke-width="0.8" fill="none"/>
<path d="M396.10 400.23V406.34M393.90 400.23h4.4M393.90 406.34h4.4" stroke="#000" stroke-width="0.8" fill="none"/>
<path d="M439.40 389.54V398.71M437.20 389.54h4.4M437.20 398.71h4.4" stroke="#000" stroke-width="0.8" fill="none"/>
<path d="M482.70 380.38V389.54M480.50 380.38h4.4M480.50 389.54h4.4" stroke="#000" stroke-width="0.8" fill="none"/>
<circle cx="318.16" cy="415.50" r="1.90" fill="#fff" stroke="#000" stroke-width="0.9"/>
<circle cx="352.80" cy="409.40" r="1.90" fill="#fff" stroke="#000" stroke-width="0.9"/>
<circle cx="396.10" cy="403.29" r="1.90" fill="#fff" stroke="#000" stroke-width="0.9"/>
<circle cx="439.40" cy="394.12" r="1.90" fill="#fff" stroke="#000" stroke-width="0.9"/>
<circle cx="482.70" cy="384.96" r="1.90" fill="#fff" stroke="#000" stroke-width="0.9"/>
<path d="M316.07 431.25L320.25 431.25L318.16 434.49Z" fill="#000" stroke="#000" stroke-width="0.8"/>
<path d="M350.71 431.25L354.89 431.25L352.80 434.49Z" fill="#000" stroke="#000" stroke-width="0.8"/>
<path d="M394.01 431.25L398.19 431.25L396.10 434.49Z" fill="#000" stroke="#000" stroke-width="0.8"/>
<path d="M437.31 431.25L441.49 431.25L439.40 434.49Z" fill="#000" stroke="#000" stroke-width="0.8"/>
<path d="M480.61 431.25L484.79 431.25L482.70 434.49Z" fill="#000" stroke="#000" stroke-width="0.8"/>
<path d="M318.16 412.45V418.56M315.96 412.45h4.4M315.96 418.56h4.4" stroke="#000" stroke-width="0.8" fill="none"/>
<path d="M352.80 377.33V386.49M350.60 377.33h4.4M350.60 386.49h4.4" stroke="#000" stroke-width="0.8" fill="none"/>
<path d="M396.10 342.21V363.59M393.90 342.21h4.4M393.90 363.59h4.4" stroke="#000" stroke-width="0.8" fill="none"/>
<path d="M439.40 329.99V342.21M437.20 329.99h4.4M437.20 342.21h4.4" stroke="#000" stroke-width="0.8" fill="none"/>
<path d="M482.70 320.83V336.10M480.50 320.83h4.4M480.50 336.10h4.4" stroke="#000" stroke-width="0.8" fill="none"/>
<path d="M316.07 414.46L320.25 414.46L318.16 417.69Z" fill="#fff" stroke="#000" stroke-width="0.8"/>
<path d="M350.71 380.86L354.89 380.86L352.80 384.09Z" fill="#fff" stroke="#000" stroke-width="0.8"/>
<path d="M394.01 351.85L398.19 351.85L396.10 355.08Z" fill="#fff" stroke="#000" stroke-width="0.8"/>
<path d="M437.31 335.05L441.49 335.05L439.40 338.28Z" fill="#fff" stroke="#000" stroke-width="0.8"/>
<path d="M480.61 327.42L484.79 327.42L482.70 330.65Z" fill="#fff" stroke="#000" stroke-width="0.8"/>
<path d="M315.5 279.4H333" stroke="#000" stroke-width="0.9"/>
<circle cx="324.25" cy="279.40" r="2.15" fill="#000" stroke="#000" stroke-width="0.6"/>
<text x="337.2" y="281.66" font-size="7.07" font-family="Liberation Serif, serif" class="l" xml:space="preserve">CTL/d35 vs DA1-3b/d365 + Isotype</text>
<path d="M315.5 289.5H333" stroke="#000" stroke-width="0.9"/>
<circle cx="324.25" cy="289.50" r="2.15" fill="#fff" stroke="#000" stroke-width="0.9"/>
<text x="337.2" y="291.76" font-size="7.07" font-family="Liberation Serif, serif" class="l" xml:space="preserve">CTL/d35 vs DA1-3b/d365 + anti-CD28 (agonist)</text>
<path d="M315.5 299.7H333" stroke="#000" stroke-width="0.9"/>
<path d="M321.88 298.52L326.62 298.52L324.25 302.17Z" fill="#000" stroke="#000" stroke-width="0.8"/>
<text x="337.2" y="301.96" font-size="7.07" font-family="Liberation Serif, serif" class="l" xml:space="preserve">CTL/d35 vs DA1-3b/d365 + anti-CD28 (inhibitor)</text>
<path d="M315.5 310.0H333" stroke="#000" stroke-width="0.9"/>
<path d="M321.88 308.82L326.62 308.82L324.25 312.47Z" fill="#fff" stroke="#000" stroke-width="0.8"/>
<text x="337.2" y="312.26" font-size="7.07" font-family="Liberation Serif, serif" class="l" xml:space="preserve">CTL/d35 vs DA1-3b/d365 + anti-B7-H1+ anti-CD28 (inhibitor)</text>
<text transform="translate(278.6,359.6) rotate(-90)" font-size="8.5" text-anchor="middle" class="t" font-family="Liberation Serif, serif">Specific lysis (%)</text>
<text x="416.5" y="459.3" font-size="8.6" text-anchor="middle" class="t" font-family="Liberation Serif, serif">E/T ratio</text>
<text x="270.5" y="254.5" font-size="16.5" font-weight="bold" font-family="Liberation Sans, sans-serif">D</text>
</svg>
</body></html>
